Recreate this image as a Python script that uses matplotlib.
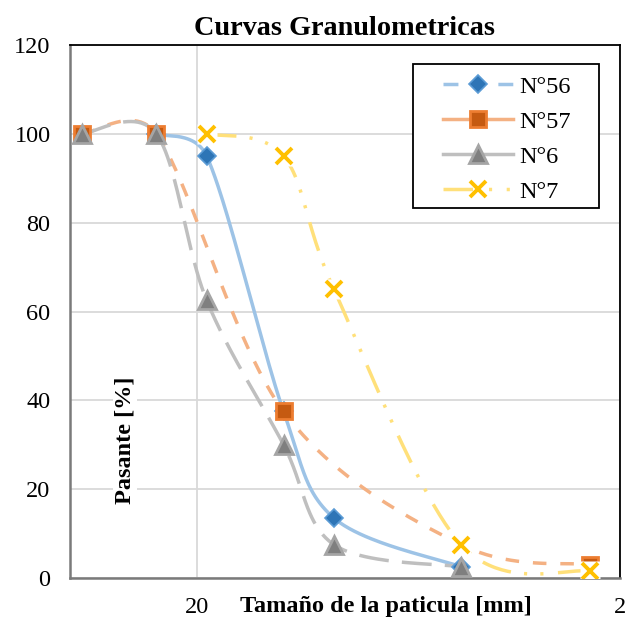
import numpy as np
import matplotlib
matplotlib.use('Agg')
import matplotlib.pyplot as plt
from matplotlib.patches import Rectangle

# ---- data ----
n56_x = [25, 19, 12.5, 9.5, 4.75]
n56_y = [100, 95, 37.5, 13.5, 2.5]
n57_x = [37.5, 25, 12.5, 4.75, 2.36]
n57_y = [100, 100, 37.5, 7.5, 3]
n6_x = [37.5, 25, 19, 12.5, 9.5, 4.75]
n6_y = [100, 100, 62.5, 30, 7.5, 2.5]
n7_x = [19, 12.5, 9.5, 4.75, 2.36]
n7_y = [100, 95, 65, 7.5, 1.5]
labels = ["N°56", "N°57", "N°6", "N°7"]
title = "Curvas Granulometricas"
xlabel = "Tamaño de la paticula [mm]"
ylabel = "Pasante [%]"
xticks = [20, 2]
yticks = [0, 20, 40, 60, 80, 100, 120]

plt.rcParams['font.family'] = ['Liberation Serif', 'DejaVu Serif']
FS = 17.5
LW = 2.5

fig = plt.figure(figsize=(6.29, 6.18), dpi=100)
ax = fig.add_axes([70/629, 1-578/618, 550/629, 533/618])
ax.set_xscale('log')
ax.set_xlim(40, 2)
ax.set_ylim(0, 120)


def smooth(xs, ys, n=50):
    """Excel-like smoothed line: cubic Bezier with limited tangent lengths (display space)."""
    pts = ax.transData.transform(np.column_stack([xs, ys]))
    P = np.vstack([pts[0], pts, pts[-1]])
    out = []
    t = np.linspace(0, 1, n)[:, None]
    for i in range(len(pts) - 1):
        p0, p1, p2, p3 = P[i], P[i+1], P[i+2], P[i+3]
        d = np.linalg.norm(p2 - p1)
        t1 = p2 - p0
        L1 = np.linalg.norm(t1)
        c1 = p1 + (t1 / L1 * min(L1 / 6, d / 2) if L1 > 0 else 0)
        t2 = p3 - p1
        L2 = np.linalg.norm(t2)
        c2 = p2 - (t2 / L2 * min(L2 / 6, d / 2) if L2 > 0 else 0)
        seg = (1-t)**3*p1 + 3*(1-t)**2*t*c1 + 3*(1-t)*t**2*c2 + t**3*p2
        out.append(seg if i == 0 else seg[1:])
    out = np.vstack(out)
    dd = ax.transData.inverted().transform(out)
    return dd[:, 0], dd[:, 1]


series = [
    (n56_x, n56_y, '#9DC3E6', '-', (0, (4.3, 11.5)),
     dict(marker='D', mfc='#2E75B6', mec='#5B9BD5', ms=9.3, mew=1.2)),
    (n57_x, n57_y, '#F4B183', (0, (3.9, 4.0)), '-',
     dict(marker='s', mfc='#C55A11', mec='#ED7D31', ms=12, mew=2)),
    (n6_x, n6_y, '#BFBFBF', (0, (8.6, 3.8)), '-',
     dict(marker='^', mfc='#7F7F7F', mec='#A5A5A5', ms=12.5, mew=2)),
    (n7_x, n7_y, '#FFE07A', (0, (8.6, 3.8, 0.9, 3.8, 0.9, 4.2)),
     (0, (8.5, 4.6, 0.9, 4.2, 0.9, 4.2)),
     dict(marker='x', mfc='#FFC000', mec='#FFC000', ms=12, mew=2.8)),
]

handles = []
for (xs, ys, col, ls, legls, mst), lab in zip(series, labels):
    sx, sy = smooth(xs, ys)
    ax.plot(sx, sy, lw=LW, color=col, ls=ls, zorder=3)
    if mst['marker'] == 'x':
        ax.plot(xs, ys, ls='none', marker='s', ms=13.8, mfc='white', mec='none', zorder=4)
    ax.plot(xs, ys, ls='none', zorder=4, **mst)
    h, = ax.plot([], [], lw=LW, color=col, ls=legls, label=lab, **mst)
    handles.append(h)

ax.set_xticks(xticks)
ax.set_xticklabels([str(v) for v in xticks])
ax.xaxis.set_minor_locator(matplotlib.ticker.NullLocator())
ax.set_yticks(yticks)
ax.tick_params(axis='both', length=0, labelsize=FS)
ax.tick_params(axis='y', pad=14)
ax.tick_params(axis='x', pad=14)
ax.grid(True, color='#D9D9D9', lw=1.3, zorder=0)
ax.set_axisbelow(True)

for s in ['top', 'right']:
    ax.spines[s].set_color('black')
    ax.spines[s].set_linewidth(1.3)
for s in ['left', 'bottom']:
    ax.spines[s].set_color('#7A7A7A')
    ax.spines[s].set_linewidth(1.8)

ax.set_title(title, fontsize=20.3, fontweight='bold', pad=7)
ax.text(0.5745, -0.053, xlabel, transform=ax.transAxes, ha='center', va='center',
        fontsize=FS, fontweight='bold')
ax.text(0.1, 0.259, ylabel, transform=ax.transAxes, ha='center', va='center',
        rotation=90, fontsize=FS, fontweight='bold', zorder=5,
        bbox=dict(facecolor='white', edgecolor='none', pad=1))

# legend box
ax.add_patch(Rectangle((0.6236, 0.6942), 0.9618 - 0.6236, 0.9644 - 0.6942,
                       transform=ax.transAxes, facecolor='white', edgecolor='black',
                       lw=1.3, zorder=5))
leg = ax.legend(handles=handles, loc='upper left', bbox_to_anchor=(0.678, 0.9426),
                fontsize=FS, frameon=False, handlelength=2.88, handletextpad=0.25,
                labelspacing=0.535, borderpad=0, borderaxespad=0)
leg.set_zorder(6)

fig.savefig('out.png', dpi=100)
